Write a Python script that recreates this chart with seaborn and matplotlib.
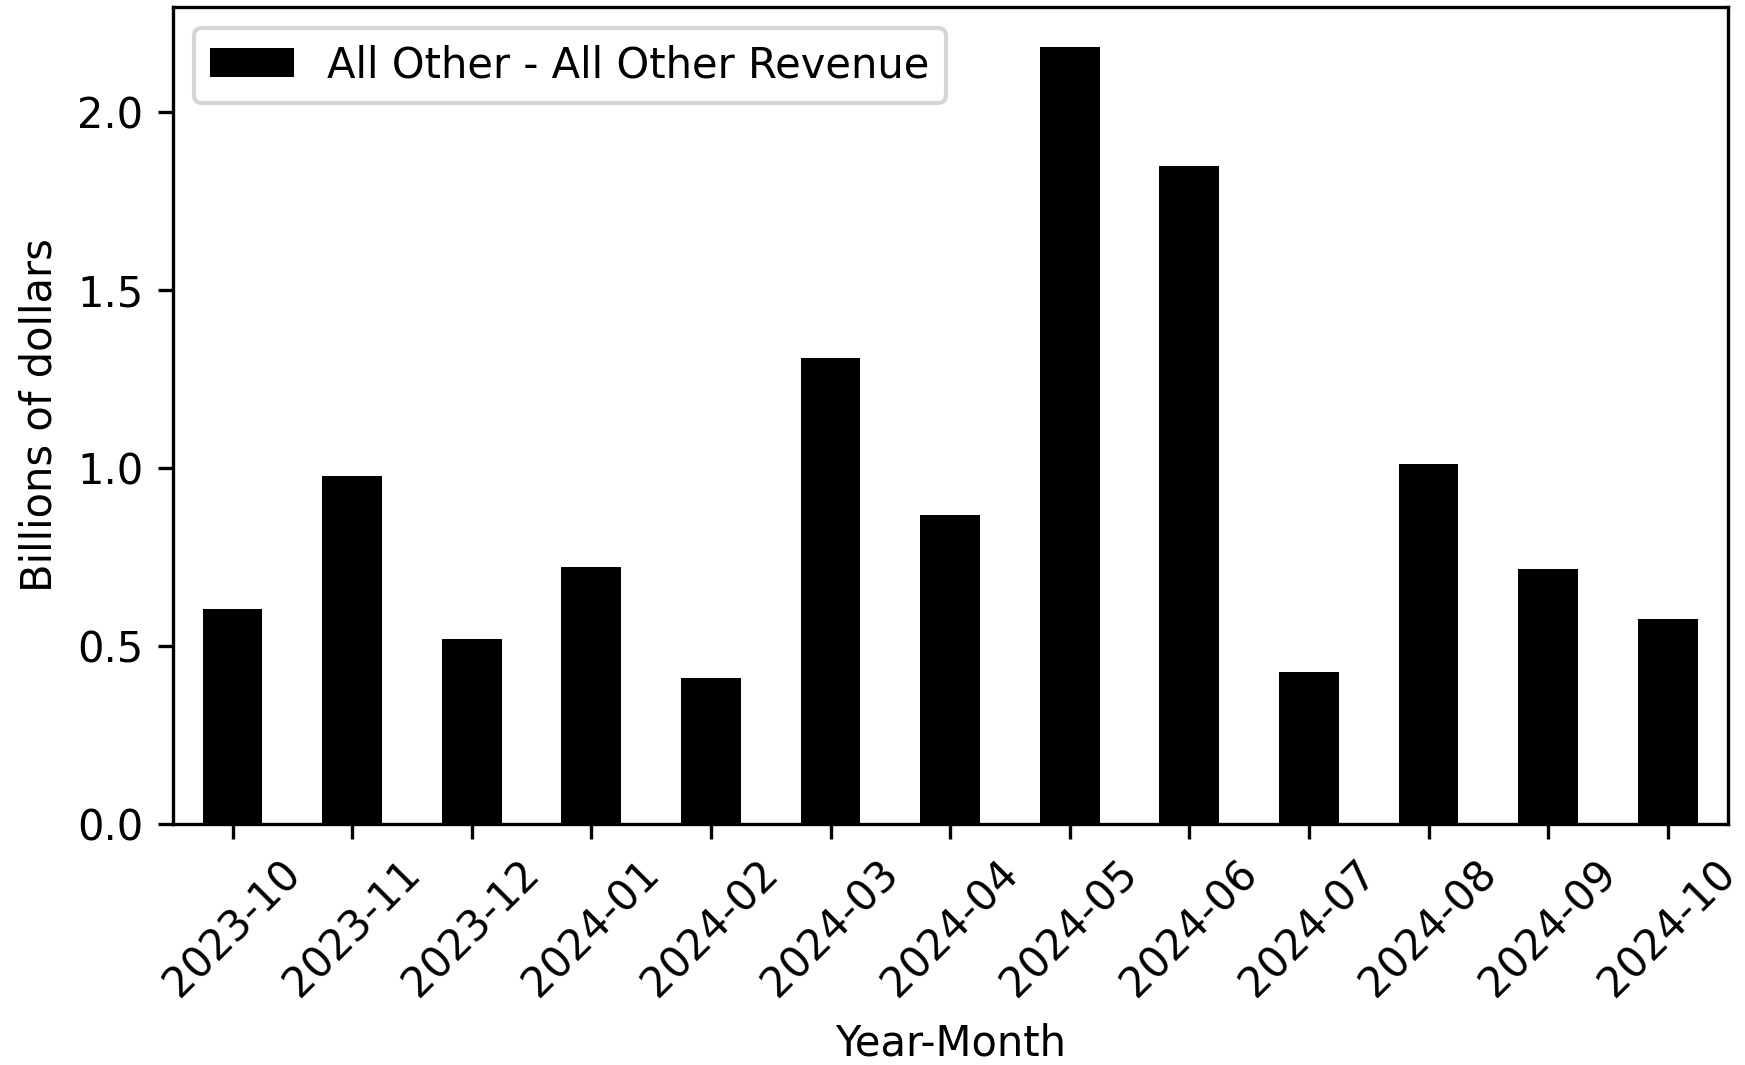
import pandas as pd
import matplotlib
matplotlib.use("Agg")
import matplotlib.pyplot as plt
import seaborn as sns

# ── Data ─────────────────────────────────────────────────────────────────
months = ["2023-10", "2023-11", "2023-12", "2024-01", "2024-02", "2024-03", "2024-04",
          "2024-05", "2024-06", "2024-07", "2024-08", "2024-09", "2024-10"]
revenue_bn = [0.603, 0.975, 0.519, 0.722, 0.409, 1.309, 0.866,
              2.181, 1.847, 0.425, 1.009, 0.716, 0.575]
series_label = "All Other - All Other Revenue"

df = pd.DataFrame({"Year-Month": months, "value": revenue_bn})

# ── Plot ─────────────────────────────────────────────────────────────────
fig, ax = plt.subplots(figsize=(5.8167, 3.55), dpi=300)
fig.subplots_adjust(left=0.099, right=0.990, top=0.9937, bottom=0.2267)

sns.barplot(data=df, x="Year-Month", y="value", color="black", width=0.5,
            saturation=1, label=series_label, ax=ax)

ax.set_xlim(-0.5, len(months) - 0.5)
ax.set_ylim(0, max(revenue_bn) * 1.052)
ax.set_xlabel("Year-Month")
ax.set_ylabel("Billions of dollars")
plt.setp(ax.get_xticklabels(), rotation=45)
ax.legend(loc="upper left")

fig.savefig("out.png", dpi=300)
